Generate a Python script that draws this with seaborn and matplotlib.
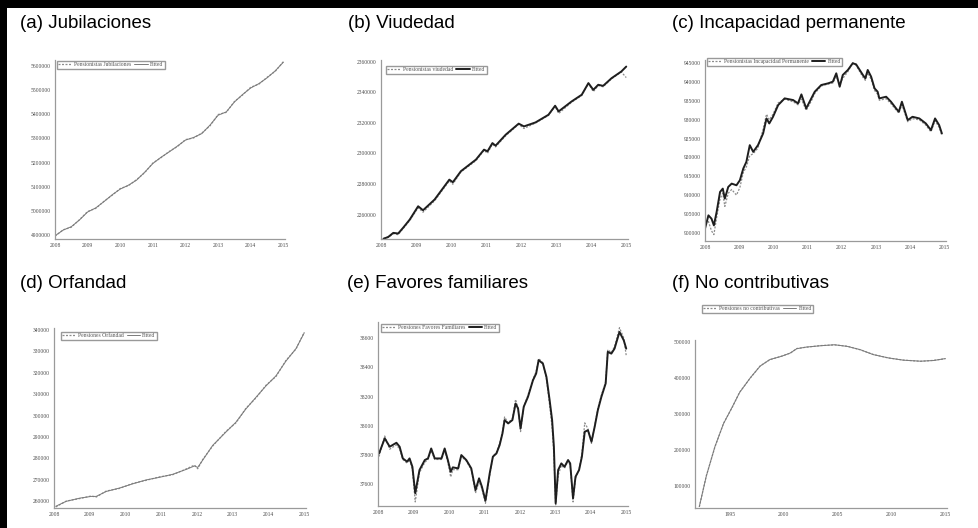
import numpy as np
import pandas as pd
import matplotlib
matplotlib.use("Agg")
import matplotlib.pyplot as plt
import matplotlib.ticker as mticker
from matplotlib.patches import Rectangle
import seaborn as sns

# ---------------- data ----------------
# (a) Jubilaciones
jub_years = [2008.0, 2008.25, 2008.5, 2008.75, 2009.0, 2009.25, 2009.5, 2009.75,
             2010.0, 2010.25, 2010.5, 2010.75, 2011.0, 2011.25, 2011.5, 2011.75,
             2012.0, 2012.25, 2012.5, 2012.75, 2013.0, 2013.25, 2013.5, 2013.75,
             2014.0, 2014.25, 2014.5, 2014.75, 2015.0]
jub_fitted = [4896000, 4920000, 4934000, 4962000, 4995000, 5012000, 5038000, 5066000,
              5090000, 5106000, 5127000, 5160000, 5196000, 5222000, 5244000, 5268000,
              5293000, 5304000, 5320000, 5355000, 5396000, 5410000, 5451000, 5482000,
              5509000, 5527000, 5551000, 5580000, 5616000]
jub_actual = [4895000, 4921000, 4932000, 4963000, 4997000, 5010000, 5039000, 5064000,
              5092000, 5104000, 5129000, 5158000, 5198000, 5220000, 5246000, 5266000,
              5295000, 5302000, 5322000, 5352000, 5399000, 5408000, 5453000, 5480000,
              5512000, 5525000, 5553000, 5578000, 5618000]

# (b) Viudedad
viu_years = [2008.07, 2008.21, 2008.35, 2008.49, 2008.63, 2008.82, 2009.06, 2009.20,
             2009.53, 2009.95, 2010.05, 2010.28, 2010.71, 2010.94, 2011.04, 2011.18,
             2011.27, 2011.56, 2011.93, 2012.08, 2012.41, 2012.78, 2012.97, 2013.07,
             2013.44, 2013.73, 2013.92, 2014.06, 2014.20, 2014.34, 2014.58, 2014.86,
             2015.00]
viu_fitted = [2244100, 2245400, 2248000, 2247600, 2251300, 2256700, 2265400, 2262800,
              2269800, 2282800, 2281100, 2288300, 2295900, 2302400, 2301300, 2306700,
              2305000, 2312200, 2319400, 2317600, 2320200, 2325200, 2331100, 2327400,
              2333900, 2338300, 2345900, 2341500, 2344800, 2344100, 2349100, 2353500,
              2356700]
viu_actual = [2244500, 2245000, 2247500, 2246800, 2250800, 2256000, 2264500, 2261500,
              2269000, 2282000, 2279800, 2287800, 2295200, 2302000, 2300000, 2306000,
              2304200, 2311500, 2319000, 2316200, 2319800, 2324800, 2330800, 2326000,
              2333400, 2337800, 2345600, 2340300, 2344300, 2343500, 2348700, 2353200,
              2349500]

# (c) Incapacidad permanente
inc_years = [2008.00, 2008.10, 2008.19, 2008.26, 2008.34, 2008.44, 2008.52, 2008.58,
             2008.68, 2008.78, 2008.92, 2009.02, 2009.12, 2009.21, 2009.31, 2009.41,
             2009.55, 2009.70, 2009.80, 2009.88, 2009.99, 2010.14, 2010.33, 2010.58,
             2010.72, 2010.82, 2010.96, 2011.11, 2011.21, 2011.40, 2011.60, 2011.74,
             2011.84, 2011.94, 2012.03, 2012.18, 2012.32, 2012.42, 2012.62, 2012.69,
             2012.76, 2012.86, 2012.96, 2013.05, 2013.10, 2013.30, 2013.44, 2013.59,
             2013.67, 2013.76, 2013.93, 2014.07, 2014.27, 2014.46, 2014.61, 2014.73,
             2014.85, 2014.93]
inc_fitted = [901070, 904620, 903730, 901950, 905510, 910830, 911720, 909060,
              912170, 913050, 912610, 913940, 917050, 918830, 923270, 921490,
              923270, 926370, 930370, 929040, 930810, 933920, 935700, 935250,
              934360, 936760, 933030, 935700, 937470, 939250, 939690, 940140,
              942360, 938800, 941910, 943250, 945020, 944750, 941910, 941030,
              943250, 941470, 938360, 937470, 935700, 936140, 934810, 933030,
              932140, 934810, 929930, 930810, 930370, 929040, 927260, 930370,
              928590, 926370]
inc_actual = [902500, 903000, 900500, 899500, 904000, 909000, 910500, 907000,
              910500, 911500, 910000, 912000, 916000, 917500, 920500, 921000,
              922500, 927500, 931500, 930000, 931500, 934500, 935500, 934800,
              934000, 935500, 932500, 935000, 937000, 939000, 939500, 939800,
              941500, 939500, 941000, 942800, 945200, 944500, 941300, 940500,
              942500, 940800, 937800, 936800, 935200, 935600, 934300, 932600,
              931800, 934000, 929500, 930300, 930000, 928600, 926800, 929800,
              928000, 925800]

# (d) Orfandad
orf_years = [2008.05, 2008.34, 2008.72, 2009.04, 2009.18, 2009.46, 2009.83, 2010.21,
             2010.58, 2010.95, 2011.32, 2011.70, 2011.93, 2012.02, 2012.16, 2012.44,
             2012.81, 2013.09, 2013.37, 2013.65, 2013.93, 2014.21, 2014.49, 2014.77,
             2015.00]
orf_fitted = [257700, 260000, 261500, 262300, 262300, 264600, 266200, 268200,
              270000, 271200, 272600, 274900, 276500, 275800, 279200, 286100,
              292300, 296900, 303100, 308500, 313800, 318500, 325400, 331200,
              338500]
orf_actual = [257400, 260100, 261300, 262500, 262000, 264800, 266000, 268400,
              269800, 271400, 272400, 275100, 276900, 275200, 279500, 285800,
              292600, 296600, 303400, 308200, 314100, 318200, 325700, 331000,
              338800]

# (e) Favores familiares
fav_years = [2008.03, 2008.19, 2008.33, 2008.52, 2008.61, 2008.70, 2008.82, 2008.89,
             2008.97, 2009.05, 2009.17, 2009.32, 2009.41, 2009.50, 2009.60, 2009.79,
             2009.88, 2009.97, 2010.05, 2010.11, 2010.26, 2010.35, 2010.49, 2010.63,
             2010.75, 2010.85, 2010.93, 2011.03, 2011.15, 2011.24, 2011.34, 2011.43,
             2011.51, 2011.57, 2011.67, 2011.79, 2011.88, 2011.95, 2012.02, 2012.11,
             2012.23, 2012.37, 2012.46, 2012.53, 2012.65, 2012.75, 2012.84, 2012.91,
             2012.96, 2013.01, 2013.08, 2013.17, 2013.26, 2013.36, 2013.42, 2013.50,
             2013.57, 2013.67, 2013.75, 2013.83, 2013.92, 2014.02, 2014.11, 2014.20,
             2014.30, 2014.42, 2014.48, 2014.58, 2014.67, 2014.81, 2014.93, 2015.00]
fav_fitted = [37811, 37914, 37857, 37884, 37857, 37777, 37755, 37777,
              37720, 37539, 37698, 37766, 37777, 37845, 37777, 37777,
              37845, 37766, 37686, 37716, 37709, 37800, 37766, 37709,
              37561, 37641, 37584, 37489, 37675, 37789, 37811, 37868,
              37948, 38039, 38016, 38039, 38152, 38118, 37982, 38130,
              38198, 38311, 38357, 38448, 38425, 38334, 38175, 38039,
              37857, 37470, 37698, 37743, 37720, 37766, 37743, 37505,
              37652, 37698, 37789, 37959, 37970, 37891, 37993, 38107,
              38198, 38289, 38505, 38493, 38527, 38641, 38584, 38527]
fav_actual = [37790, 37930, 37840, 37870, 37840, 37770, 37745, 37770,
              37700, 37480, 37680, 37750, 37770, 37830, 37770, 37770,
              37830, 37750, 37650, 37700, 37700, 37790, 37760, 37700,
              37540, 37620, 37570, 37470, 37660, 37790, 37820, 37880,
              37960, 38060, 38020, 38050, 38180, 38120, 37960, 38130,
              38210, 38320, 38370, 38460, 38430, 38320, 38140, 37990,
              37800, 37460, 37660, 37730, 37710, 37760, 37730, 37480,
              37640, 37700, 37810, 38020, 37980, 37880, 38000, 38120,
              38210, 38300, 38520, 38500, 38540, 38670, 38600, 38480]

# (f) No contributivas
nc_years = [1992.15, 1992.8, 1993.6, 1994.4, 1995.2, 1995.9, 1996.9, 1997.8,
            1998.7, 1999.8, 2000.6, 2001.2, 2002.1, 2003.4, 2004.7, 2005.9,
            2007.1, 2008.3, 2009.7, 2011.1, 2012.7, 2013.9, 2015.0]
nc_fitted = [42000, 126500, 208700, 272600, 318300, 359400, 400500, 432400,
             450700, 459800, 468900, 480800, 485400, 489000, 491800, 487200,
             478100, 464400, 455300, 448900, 446100, 448000, 453400]
nc_actual = [41000, 127500, 207500, 273500, 317500, 360200, 399800, 433000,
             450200, 460300, 468400, 481300, 485000, 489400, 491400, 487600,
             477700, 464800, 455000, 449200, 445800, 448300, 453000]

titles = ["(a) Jubilaciones", "(b) Viudedad", "(c) Incapacidad permanente",
          "(d) Orfandad", "(e) Favores familiares", "(f) No contributivas"]
legend_labels = ["Pensionistas Jubilaciones", "Pensionistas viudedad",
                 "Pensionistas Incapacidad Permanente", "Pensiones Orfandad",
                 "Pensiones Favores Familiares", "Pensiones no contributivas"]

# ---------------- figure ----------------
sns.set_style("white")
plt.rcParams['font.family'] = ['Liberation Sans', 'DejaVu Sans']

W, H = 979, 528
fig = plt.figure(figsize=(W / 100, H / 100), dpi=100)
fig.patch.set_facecolor("white")


def add_ax(l, t, r, b):
    return fig.add_axes([l / W, 1 - b / H, (r - l) / W, (b - t) / H])


panels = [
    dict(rect=(55, 60, 285, 239), x=jub_years, a=jub_actual, f=jub_fitted,
         ylim=(4883000, 5625000), yticks=np.arange(4900000, 5600001, 100000),
         xlim=(2008, 2015.05), xticks=range(2008, 2016), xminor=1 / 12,
         title_xy=(20, 23), leg_xy=(57, 61), bold=False),
    dict(rect=(381, 60, 628, 239), x=viu_years, a=viu_actual, f=viu_fitted,
         ylim=(2244000, 2361000), yticks=np.arange(2260000, 2360001, 20000),
         xlim=(2008, 2015.05), xticks=range(2008, 2016), xminor=1 / 12,
         title_xy=(348, 23), leg_xy=(386, 66), bold=True),
    dict(rect=(705, 60, 946, 241), x=inc_years, a=inc_actual, f=inc_fitted,
         ylim=(897800, 945900), yticks=np.arange(900000, 945001, 5000),
         xlim=(2008, 2015.05), xticks=range(2008, 2016), xminor=1 / 12,
         title_xy=(672, 23), leg_xy=(707, 58), bold=True),
    dict(rect=(54, 328, 306, 508), x=orf_years, a=orf_actual, f=orf_fitted,
         ylim=(256900, 340800), yticks=np.arange(260000, 340001, 10000),
         xlim=(2008, 2015.05), xticks=range(2008, 2016), xminor=1 / 12,
         title_xy=(20, 284), leg_xy=(61, 332), bold=False),
    dict(rect=(378, 322, 628, 506), x=fav_years, a=fav_actual, f=fav_fitted,
         ylim=(37452, 38709), yticks=np.arange(37600, 38601, 200),
         xlim=(2008, 2015.05), xticks=range(2008, 2016), xminor=1 / 12,
         title_xy=(347, 284), leg_xy=(381, 324), bold=True),
    dict(rect=(695, 340, 947, 508), x=nc_years, a=nc_actual, f=nc_fitted,
         ylim=(38000, 505000), yticks=np.arange(100000, 500001, 100000),
         xlim=(1991.75, 2015.15), xticks=range(1995, 2016, 5), xminor=1,
         title_xy=(672, 284), leg_xy=(702, 305), bold=False),
]

spine_col = "#9a9a9a"
for i, p in enumerate(panels):
    ax = add_ax(*p["rect"])
    df = pd.DataFrame({"year": p["x"], "actual": p["a"], "fitted": p["f"]})
    sns.lineplot(data=df, x="year", y="actual", ax=ax, color="#8c8c8c",
                 linewidth=0.9, linestyle=(0, (1.6, 1.2)),
                 label=legend_labels[i])
    if p["bold"]:
        sns.lineplot(data=df, x="year", y="fitted", ax=ax, color="#1e1e1e",
                     linewidth=1.4, label="Fitted")
    else:
        sns.lineplot(data=df, x="year", y="fitted", ax=ax, color="#7a7a7a",
                     linewidth=0.7, label="Fitted")
    ax.set_xlim(*p["xlim"])
    ax.set_ylim(*p["ylim"])
    ax.set_xticks(list(p["xticks"]))
    ax.set_yticks(p["yticks"])
    ax.xaxis.set_minor_locator(mticker.MultipleLocator(p["xminor"]))
    ax.yaxis.set_minor_locator(mticker.AutoMinorLocator(4))
    ax.yaxis.set_major_formatter(mticker.FuncFormatter(lambda v, pos: f"{int(round(v))}"))
    ax.xaxis.set_major_formatter(mticker.FuncFormatter(lambda v, pos: f"{int(round(v))}"))
    ax.set_xlabel("")
    ax.set_ylabel("")
    for s in ["top", "right"]:
        ax.spines[s].set_visible(False)
    for s in ["left", "bottom"]:
        ax.spines[s].set_color(spine_col)
        ax.spines[s].set_linewidth(0.9)
    ax.tick_params(axis="both", which="major", length=3, width=0.6, color=spine_col,
                   direction="inout", pad=1.5, labelsize=4.0, labelcolor="#4a4a4a")
    ax.tick_params(axis="both", which="minor", length=1.6, width=0.5, color=spine_col,
                   direction="in")
    for lab in ax.get_xticklabels() + ax.get_yticklabels():
        lab.set_family(["Liberation Serif", "DejaVu Serif"])
    ax.set_facecolor("white")

    lx, ly = p["leg_xy"]
    leg = ax.legend(loc="upper left", bbox_to_anchor=(lx / W, 1 - ly / H),
                    bbox_transform=fig.transFigure, ncol=2, frameon=True,
                    fancybox=False, borderaxespad=0, borderpad=0.25,
                    handlelength=2.3, handletextpad=0.4, columnspacing=0.6,
                    prop={"family": ["Liberation Serif", "DejaVu Serif"], "size": 4.1})
    leg.get_frame().set_edgecolor("#808080")
    leg.get_frame().set_linewidth(1.0)
    for t in leg.get_texts():
        t.set_color("#555555")

    tx, ty = p["title_xy"]
    fig.text(tx / W, 1 - ty / H, titles[i], fontsize=13.5, va="center", ha="left",
             color="black", family=["Liberation Sans", "DejaVu Sans"])

# black frame pieces (top and left)
fig.add_artist(Rectangle((0, 1 - 8 / H), 1, 8 / H, transform=fig.transFigure,
                         facecolor="black", edgecolor="none"))
fig.add_artist(Rectangle((0, 0), 7 / W, 1, transform=fig.transFigure,
                         facecolor="black", edgecolor="none"))

fig.savefig("out.png", dpi=100)
